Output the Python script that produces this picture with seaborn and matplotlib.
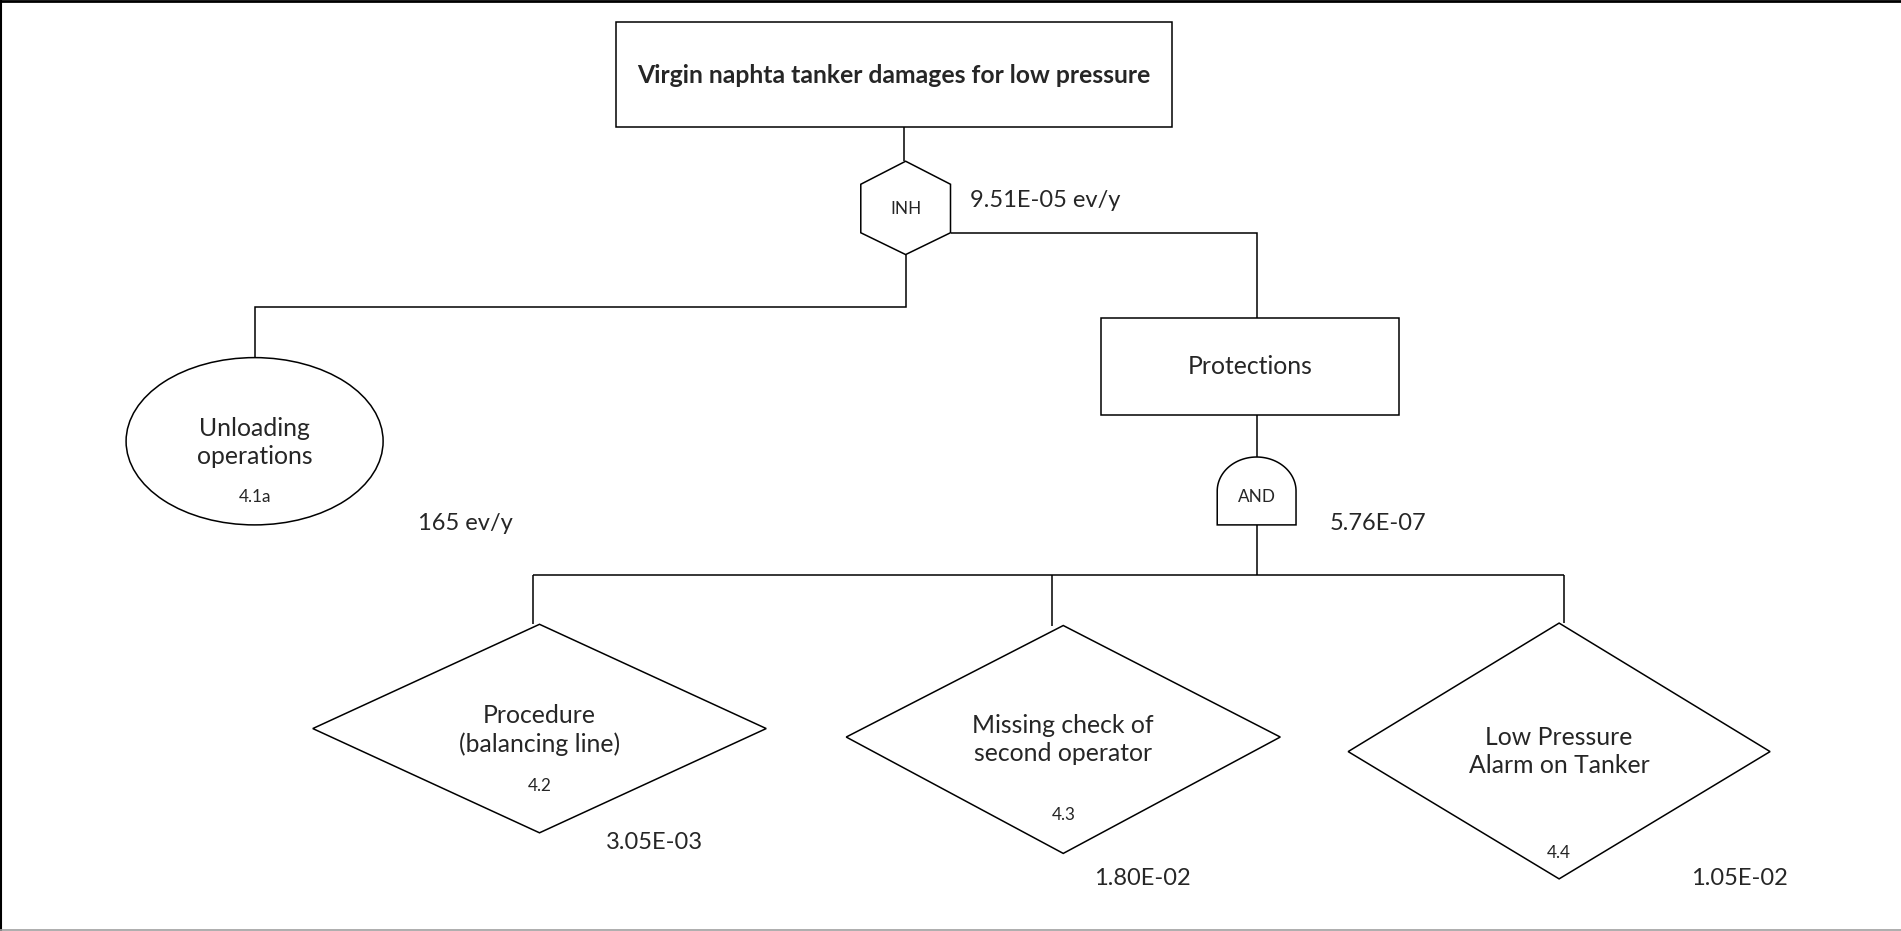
import numpy as np
import pandas as pd
import seaborn as sns
import matplotlib.pyplot as plt
from matplotlib.patches import Rectangle, Ellipse, Polygon

# Fault tree content
top_event = "Virgin naphta tanker damages for low pressure"
top_freq = "9.51E-05 ev/y"
initiator_label = "Unloading\noperations"
initiator_code = "4.1a"
initiator_freq = "165 ev/y"
protections_label = "Protections"
protections_prob = "5.76E-07"
barrier_labels = ["Procedure\n(balancing line)", "Missing check of\nsecond operator", "Low Pressure\nAlarm on Tanker"]
barrier_codes = ["4.2", "4.3", "4.4"]
barrier_probs = ["3.05E-03", "1.80E-02", "1.05E-02"]

# Layout (drawing units = 1568 x 768 canvas)
diamonds = pd.DataFrame({
    "cx": [445, 877, 1286],
    "cy": [601, 608, 620],
    "half_w": [187, 179, 174],
    "top": [515, 516, 514],
    "bottom": [687, 704, 725],
    "drop_x": [440, 868, 1290],
    "label_y": [602, 610, 620],
    "code_y": [648, 672, 704],
    "prob_x": [540, 942, 1435],
    "prob_y": [695, 725, 725],
})

sns.set_theme(style="white")
plt.rcParams['font.family'] = ['Lato', 'DejaVu Sans']

fig = plt.figure(figsize=(19.01, 9.31), dpi=100)
ax = fig.add_axes([0, 0, 1, 1])
ax.set_xlim(0, 1568)
ax.set_ylim(768, 0)
ax.axis("off")

LW = 1.1
K = "black"
FS_LABEL = 17.8
FS_VALUE = 17
FS_SMALL = 12.3

def seg(xs, ys):
    ax.plot(xs, ys, color=K, lw=LW, solid_capstyle="butt", solid_joinstyle="miter")

# top event box
ax.add_patch(Rectangle((508, 18), 459, 87, fill=False, ec=K, lw=LW))
ax.text(737, 62, top_event, ha="center", va="center", fontsize=17.8, fontweight="bold")
seg([746, 746], [105, 133])

# INH gate (hexagon)
hx = [747, 784, 784, 747, 710, 710]
hy = [133, 152, 192, 210, 192, 152]
ax.add_patch(Polygon(list(zip(hx, hy)), closed=True, fill=False, ec=K, lw=LW))
ax.text(747, 172, "INH", ha="center", va="center", fontsize=FS_SMALL)
ax.text(800, 165, top_freq, ha="left", va="center", fontsize=FS_VALUE)

# connectors from INH
seg([784, 1037, 1037], [192, 192, 262])
seg([747, 747, 210, 210], [210, 253, 253, 295])

# initiating event (ellipse)
ax.add_patch(Ellipse((210, 364), 212, 138, fill=False, ec=K, lw=LW))
ax.text(210, 365, initiator_label, ha="center", va="center", fontsize=FS_LABEL, linespacing=1.3)
ax.text(210, 410, initiator_code, ha="center", va="center", fontsize=FS_SMALL)
ax.text(345, 432, initiator_freq, ha="left", va="center", fontsize=FS_VALUE)

# protections box
ax.add_patch(Rectangle((908, 262), 246, 80, fill=False, ec=K, lw=LW))
ax.text(1031, 302, protections_label, ha="center", va="center", fontsize=FS_LABEL)
seg([1037, 1037], [342, 377])

# AND gate
t = np.linspace(np.pi, 0, 60)
gx = np.concatenate([[1004, 1004], 1036.5 + 32.5 * np.cos(t), [1069, 1069]])
gy = np.concatenate([[433, 405], 405 - 28 * np.sin(t), [405, 433]])
ax.add_patch(Polygon(np.column_stack([gx, gy]), closed=True, fill=False, ec=K, lw=LW))
ax.text(1037, 410, "AND", ha="center", va="center", fontsize=FS_SMALL)
ax.text(1097, 432, protections_prob, ha="left", va="center", fontsize=FS_VALUE)

# bus to barriers
seg([1037, 1037], [433, 474])
seg([diamonds.drop_x.min(), diamonds.drop_x.max()], [474, 474])

for i, d in diamonds.iterrows():
    seg([d.drop_x, d.drop_x], [474, d.top])
    pts = [(d.cx, d.top), (d.cx + d.half_w, d.cy), (d.cx, d.bottom), (d.cx - d.half_w, d.cy)]
    ax.add_patch(Polygon(pts, closed=True, fill=False, ec=K, lw=LW))
    ax.text(d.cx, d.label_y, barrier_labels[i], ha="center", va="center", fontsize=FS_LABEL, linespacing=1.3)
    ax.text(d.cx, d.code_y, barrier_codes[i], ha="center", va="center", fontsize=FS_SMALL)
    ax.text(d.prob_x, d.prob_y, barrier_probs[i], ha="center", va="center", fontsize=FS_VALUE)

# frame
fig.add_artist(plt.Line2D([0, 1], [0.999, 0.999], color=K, lw=2.0, transform=fig.transFigure))
fig.add_artist(plt.Line2D([0.0005, 0.0005], [0, 1], color=K, lw=1.5, transform=fig.transFigure))
fig.add_artist(plt.Line2D([0, 1], [0.0008, 0.0008], color="#a0a0a0", lw=1.2, transform=fig.transFigure))

fig.savefig("out.png", dpi=100)
